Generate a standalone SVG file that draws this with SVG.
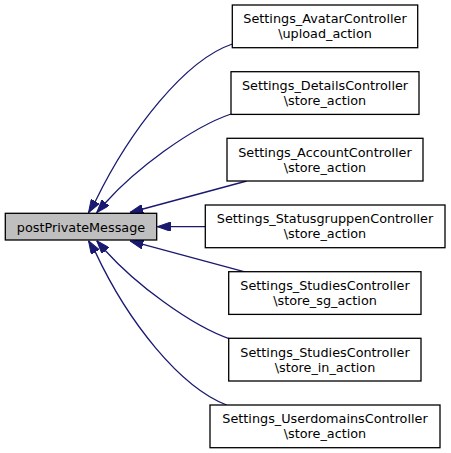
<svg xmlns="http://www.w3.org/2000/svg" width="451" height="453" viewBox="0 0 451 453">
<style>
.box{fill:#ffffff;stroke:#000000;stroke-width:1.3}
.main{fill:#bfbfbf;stroke:#000000;stroke-width:1.3}
.lbl{font-family:"DejaVu Sans",sans-serif;font-size:12.8px;fill:#000000;text-anchor:middle}
.edge{fill:none;stroke:#191970;stroke-width:1.3;marker-end:url(#arr)}
</style>
<defs>
<marker id="arr" markerUnits="userSpaceOnUse" viewBox="0 0 13.3 9.3" refX="13.3" refY="4.65" markerWidth="13.3" markerHeight="9.3" orient="auto">
<polygon points="0,0 13.3,4.65 0,9.3" fill="#191970" stroke="#191970" stroke-width="1"/>
</marker>
</defs>
<g id="connectors">
<path class="edge" d="M232.3,44 C185,60 130,130 95.5,201 L88.5,212.7"/>
<path class="edge" d="M231,114 C190,128 135,170 105.5,202.7 L96.7,212.7"/>
<path class="edge" d="M246.7,181 L130,212.5"/>
<path class="edge" d="M205,226.7 L157.3,226.7"/>
<path class="edge" d="M246.7,272.4 L130,240.9"/>
<path class="edge" d="M231,339.4 C190,325.4 135,283.4 105.5,250.7 L96.7,240.7"/>
<path class="edge" d="M226.7,405 C180,387 128,322 95.5,252.4 L88.5,240.7"/>
</g>
<g id="postPrivateMessage">
<rect class="main" x="5.3" y="213.3" width="151.4" height="26.7"/>
<text class="lbl" x="81" y="231.7">postPrivateMessage</text>
</g>
<g id="avatar">
<rect class="box" x="232.3" y="5" width="185.4" height="42.7"/>
<text class="lbl" x="325" y="23.3">Settings_AvatarController</text>
<text class="lbl" x="325" y="38.3">\upload_action</text>
</g>
<g id="details">
<rect class="box" x="231" y="71.7" width="188" height="42.7"/>
<text class="lbl" x="325" y="90">Settings_DetailsController</text>
<text class="lbl" x="325" y="105">\store_action</text>
</g>
<g id="account">
<rect class="box" x="227" y="138.3" width="196" height="42.7"/>
<text class="lbl" x="325" y="156.7">Settings_AccountController</text>
<text class="lbl" x="325" y="171.7">\store_action</text>
</g>
<g id="statusgruppen">
<rect class="box" x="205.3" y="205" width="239.7" height="42.7"/>
<text class="lbl" x="325" y="223.3">Settings_StatusgruppenController</text>
<text class="lbl" x="325" y="238.3">\store_action</text>
</g>
<g id="studies_sg">
<rect class="box" x="228.7" y="271.7" width="192.3" height="42.7"/>
<text class="lbl" x="325" y="290">Settings_StudiesController</text>
<text class="lbl" x="325" y="305">\store_sg_action</text>
</g>
<g id="studies_in">
<rect class="box" x="228.7" y="338.3" width="192.3" height="42.7"/>
<text class="lbl" x="325" y="356.7">Settings_StudiesController</text>
<text class="lbl" x="325" y="371.7">\store_in_action</text>
</g>
<g id="userdomains">
<rect class="box" x="210" y="405" width="230" height="42.7"/>
<text class="lbl" x="325" y="423.3">Settings_UserdomainsController</text>
<text class="lbl" x="325" y="438.3">\store_action</text>
</g>
</svg>
